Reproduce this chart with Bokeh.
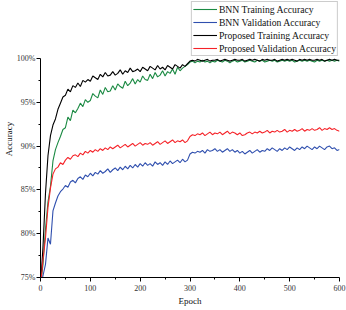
from bokeh.plotting import figure
from bokeh.models import Legend, LegendItem, Range1d, FixedTicker, CustomJSTickFormatter
from bokeh.embed import file_html
from bokeh.resources import INLINE

step = 5
epochs = list(range(0, 601, step))

bnn_train = [
    74.0, 76.5, 80.5, 83.6, 85.4, 88.3, 89.6, 90.4, 91.1, 91.9,
    92.1, 93.3, 92.9, 94.1, 93.8, 94.3, 94.9, 94.5, 95.3, 95.0,
    95.2, 96.0, 95.7, 95.5, 96.4, 95.9, 96.7, 96.2, 96.3, 96.9,
    96.4, 97.1, 96.8, 96.6, 97.4, 96.9, 97.2, 97.7, 97.1, 97.6,
    97.3, 98.0, 97.6, 97.5, 98.2, 97.7, 98.4, 97.9, 98.1, 98.6,
    98.0, 98.5, 98.3, 98.8, 98.2, 99.0, 98.6, 98.9, 99.1, 99.3,
    99.6, 99.7, 99.5, 99.7, 99.6, 99.8, 99.6, 99.7, 99.5, 99.7,
    99.6, 99.8, 99.7, 99.6, 99.8, 99.7, 99.5, 99.7, 99.8, 99.6,
    99.7, 99.8, 99.6, 99.7, 99.8, 99.7, 99.6, 99.8, 99.7, 99.8,
    99.6, 99.7, 99.8, 99.7, 99.8, 99.6, 99.7, 99.8, 99.7, 99.8,
    99.7, 99.8, 99.6, 99.7, 99.8, 99.7, 99.8, 99.7, 99.8, 99.7,
    99.6, 99.8, 99.7, 99.8, 99.7, 99.8, 99.7, 99.8, 99.7, 99.8,
    99.7,
]

bnn_val = [
    74.0, 75.2, 76.5, 79.5, 78.8, 82.6, 83.5, 84.3, 84.8, 85.1,
    85.5, 85.3, 85.9, 86.1, 85.8, 86.3, 86.5, 86.2, 86.7, 86.5,
    86.9, 86.6, 87.0, 86.8, 87.2, 86.9, 87.1, 87.4, 87.0, 87.3,
    87.5, 87.2, 87.6, 87.3, 87.7, 87.4, 87.8, 87.5, 87.9, 87.6,
    88.0, 87.7, 88.1, 87.8, 88.0, 87.7, 88.2, 87.9, 88.1, 87.8,
    88.2, 87.9, 88.3, 88.0, 88.2, 88.4, 88.1, 88.5, 88.2, 88.4,
    89.1, 89.3, 89.2, 89.4, 89.3, 89.5, 89.2, 89.6, 89.4, 89.5,
    89.7, 89.4, 89.6, 89.3, 89.5, 89.7, 89.4, 89.6, 89.3, 89.5,
    89.2, 89.4, 89.1, 89.3, 89.5, 89.2, 89.4, 89.6, 89.3, 89.5,
    89.4, 89.7, 89.5, 89.8, 89.6, 89.4, 89.7, 89.5, 89.8, 89.6,
    89.9, 89.7, 89.5, 89.8, 89.6, 89.9, 89.7, 90.0, 89.8, 89.6,
    89.9, 89.7, 90.0, 89.8, 89.6, 89.9, 90.0, 89.7, 89.8, 89.5,
    89.6,
]

prop_train = [
    74.0, 78.5, 84.6, 88.9, 91.2, 92.4, 93.1, 94.2, 94.9, 95.6,
    95.8, 96.5, 96.2, 96.9, 96.7, 97.2, 96.8, 97.5, 97.3, 97.6,
    97.4, 98.0, 97.8, 97.6, 98.2, 97.9, 98.4, 98.0, 98.1, 98.5,
    98.1, 98.3, 98.7, 98.2, 98.6, 98.4, 98.9, 98.5, 98.6, 98.8,
    98.5, 99.0, 98.8, 98.6, 99.1, 98.9, 98.7, 99.2, 98.8, 99.0,
    98.7, 99.2, 99.0, 98.8, 99.3, 99.1, 98.9, 99.3, 99.1, 99.4,
    99.7, 99.8, 99.7, 99.9, 99.8, 99.7, 99.8, 99.9, 99.7, 99.8,
    99.8, 99.9, 99.7, 99.8, 99.9, 99.8, 99.7, 99.8, 99.9, 99.8,
    99.8, 99.9, 99.7, 99.8, 99.9, 99.8, 99.9, 99.8, 99.7, 99.9,
    99.8, 99.9, 99.8, 99.8, 99.9, 99.7, 99.8, 99.9, 99.8, 99.9,
    99.8, 99.9, 99.8, 99.7, 99.9, 99.8, 99.9, 99.8, 99.9, 99.8,
    99.8, 99.9, 99.8, 99.9, 99.7, 99.8, 99.9, 99.8, 99.9, 99.8,
    99.8,
]

prop_val = [
    74.0, 77.0, 79.5, 83.0, 85.2, 86.8, 87.4, 87.6, 88.1, 87.9,
    88.4, 88.7, 88.5, 88.9, 89.0, 88.8, 89.2, 89.0, 89.4, 89.2,
    89.5, 89.3, 89.6, 89.4, 89.7, 89.5, 89.8, 89.6, 89.9, 89.7,
    89.9, 90.1, 89.8, 90.0, 90.2, 89.9, 90.1, 90.3, 90.0, 90.2,
    90.4, 90.1, 90.3, 90.2, 90.4, 90.1, 90.3, 90.5, 90.2, 90.4,
    90.6, 90.3, 90.5, 90.7, 90.4, 90.6, 90.5, 90.7, 90.4, 90.6,
    91.1, 91.3, 91.2, 91.4, 91.3, 91.5, 91.2, 91.4, 91.6, 91.3,
    91.5, 91.4, 91.6, 91.3, 91.5, 91.7, 91.4, 91.6, 91.5, 91.3,
    91.5, 91.2, 91.3, 91.5, 91.6, 91.4, 91.6, 91.5, 91.7, 91.5,
    91.6, 91.8, 91.5, 91.7, 91.6, 91.8, 91.6, 91.7, 91.9, 91.6,
    91.8, 91.7, 91.9, 91.7, 91.8, 92.0, 91.7, 91.9, 91.8, 92.0,
    91.8, 91.9, 92.1, 91.8, 92.0, 91.9, 92.1, 91.9, 92.0, 91.8,
    91.7,
]

series_names = ["BNN Training Accuracy", "BNN Validation Accuracy",
                "Proposed Training Accuracy", "Proposed Validation Accuracy"]
series_values = [bnn_train, bnn_val, prop_train, prop_val]
series_colors = ["#1b8a43", "#2f4fae", "#000000", "#f52228"]

y_ticks = [75, 80, 85, 90, 95, 100]
x_ticks = [0, 100, 200, 300, 400, 500, 600]

FONT = "Liberation Serif"

# frame spans the full height above the x axis; the y axis itself is bounded to 75-100%
p = figure(width=346, height=310, output_backend="svg", toolbar_location=None,
           x_range=Range1d(0, 600), y_range=Range1d(75, 106.62),
           min_border_left=39, min_border_right=7, min_border_top=0, min_border_bottom=33)
p.outline_line_color = None
p.xgrid.visible = False
p.ygrid.visible = False
p.background_fill_color = "white"

items = []
for name, vals, col in zip(series_names, series_values, series_colors):
    r = p.line(epochs, vals, line_color=col, line_width=1.1)
    items.append(LegendItem(label=name, renderers=[r]))

legend = Legend(items=items, location="top_right",
                glyph_width=24, glyph_height=12, label_height=12,
                spacing=1, padding=1, margin=1, label_standoff=2,
                border_line_color="#999999", border_line_width=1,
                background_fill_color="white", background_fill_alpha=1.0,
                label_text_font=FONT, label_text_font_size="9.7px",
                label_text_color="#111111")
p.add_layout(legend, "center")

for ax in (p.xaxis[0], p.yaxis[0]):
    ax.axis_line_color = "#000000"
    ax.axis_line_width = 1
    ax.major_tick_line_color = "#000000"
    ax.minor_tick_line_color = "#000000"
    ax.major_tick_out = 4
    ax.major_tick_in = 0
    ax.minor_tick_out = 2
    ax.minor_tick_in = 0
    ax.major_label_text_font = FONT
    ax.major_label_text_font_size = "8px"
    ax.major_label_text_color = "#333333"
    ax.axis_label_text_font = FONT
    ax.axis_label_text_font_size = "9px"
    ax.axis_label_text_font_style = "normal"
    ax.axis_label_text_color = "#111111"
    ax.major_label_standoff = 3
    ax.axis_label_standoff = 2

p.yaxis.major_label_standoff = 1
p.yaxis.axis_label_standoff = 0
p.yaxis.bounds = (75, 100)
p.xaxis.ticker = FixedTicker(ticks=x_ticks, minor_ticks=[50, 150, 250, 350, 450, 550])
p.yaxis.ticker = FixedTicker(ticks=y_ticks, minor_ticks=[77.5, 82.5, 87.5, 92.5, 97.5])
p.yaxis.formatter = CustomJSTickFormatter(code="return tick.toFixed(0) + '%';")
p.xaxis.axis_label = "Epoch"
p.yaxis.axis_label = "Accuracy"

open("out.html", "w").write(file_html(p, INLINE))
